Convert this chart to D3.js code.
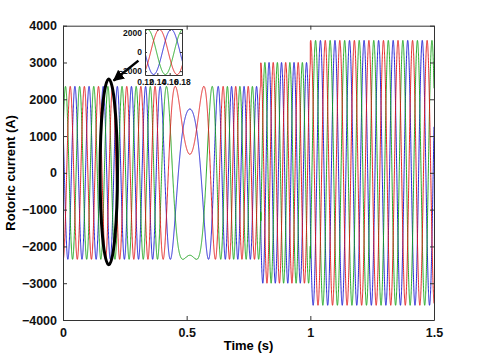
<!DOCTYPE html>
<html>
<head>
<meta charset="utf-8">
<script src="https://cdn.jsdelivr.net/npm/d3@7"></script>
<style>
  body { margin: 0; background: #fff; }
  svg text { font-family: "Liberation Sans", Arial, sans-serif; font-weight: bold; }
</style>
</head>
<body>
<div id="chart"></div>
<script>
// values
const phaseNames = ["blue", "green", "red"];
const phaseColors = ["#1010d0", "#10a010", "#e01010"];
const phaseShift = [120, 0, -120];          // degrees, relative to the green phase

// amplitude of the rotor current per time segment (A)
const segStart = [0, 0.8, 1.0];
const segAmp = [2350, 3000, 3600];

// slip frequency read at a few instants (Hz, sign = phase sequence)
const freqT = [0, 0.37, 0.513, 0.66, 1.0, 1.001, 1.5];
const freqHz = [17.5, 17.5, 0, -19.8, -19.8, -17, -17];
const turnTime = 0.513;      // frequency crosses zero here
const turnAngle = 197.6;     // green phase angle at the turn (deg)

const xTicks = [0, 0.5, 1, 1.5];
const yTicks = [-4000, -3000, -2000, -1000, 0, 1000, 2000, 3000, 4000];
const insetXTicks = [0.12, 0.14, 0.16, 0.18];
const insetYTicks = [-2000, 0, 2000];

const width = 480;
const height = 360;

const x = d3.scaleLinear().domain([0, 1.5]).range([63, 434]);
const y = d3.scaleLinear().domain([-4000, 4000]).range([320, 25.7]);

// build the three phase currents from the readings above
const dt = 0.0002;
const times = d3.range(0, 1.5 + dt / 2, dt);
const freqAt = d3.scaleLinear().domain(freqT).range(freqHz);
const angle = [];   // cycles
let acc = 0;
times.forEach((t, i) => {
  if (i > 0) acc += (freqAt(t - dt / 2)) * dt;
  angle.push(acc);
});
const turnIdx = Math.round(turnTime / dt);
const offset = turnAngle / 360 - angle[turnIdx];
function ampAt(t) {
  let a = segAmp[0];
  segStart.forEach((s, k) => { if (t >= s) a = segAmp[k]; });
  return a;
}
const series = phaseShift.map(sh => times.map((t, i) =>
  ({ t: t, v: ampAt(t) * Math.cos(2 * Math.PI * (angle[i] + offset) + sh * Math.PI / 180) })));

const svg = d3.select("#chart").append("svg")
  .attr("width", width)
  .attr("height", height);

svg.append("defs").append("clipPath").attr("id", "clip")
  .append("rect")
  .attr("x", x(0)).attr("y", y(4000))
  .attr("width", x(1.5) - x(0)).attr("height", y(-4000) - y(4000));

svg.append("defs").append("marker")
  .attr("id", "head")
  .attr("viewBox", "0 0 10 10")
  .attr("refX", 9).attr("refY", 5)
  .attr("markerWidth", 4.5).attr("markerHeight", 4.5)
  .attr("orient", "auto")
  .append("path").attr("d", "M0,0 L10,5 L0,10 z").attr("fill", "#000");

const line = d3.line().x(d => x(d.t)).y(d => y(d.v));

const plot = svg.append("g").attr("clip-path", "url(#clip)");
series.forEach((s, k) => {
  plot.append("path")
    .datum(s)
    .attr("fill", "none")
    .attr("stroke", phaseColors[k])
    .attr("stroke-width", 0.9)
    .attr("d", line);
});

// axes frame
const ax = svg.append("g");
ax.append("g")
  .attr("transform", `translate(0,${y(-4000)})`)
  .call(d3.axisBottom(x).tickValues(xTicks).tickFormat(d3.format("")).tickSizeInner(-4).tickSizeOuter(0).tickPadding(8));
ax.append("g")
  .attr("transform", `translate(0,${y(4000)})`)
  .call(d3.axisTop(x).tickValues(xTicks).tickFormat("").tickSizeInner(-4).tickSizeOuter(0));
ax.append("g")
  .attr("transform", `translate(${x(0)},0)`)
  .call(d3.axisLeft(y).tickValues(yTicks).tickFormat(d3.format("")).tickSizeInner(-4).tickSizeOuter(0).tickPadding(6));
ax.append("g")
  .attr("transform", `translate(${x(1.5)},0)`)
  .call(d3.axisRight(y).tickValues(yTicks).tickFormat("").tickSizeInner(-4).tickSizeOuter(0));
ax.selectAll(".domain").attr("stroke", "#333");
ax.selectAll(".tick line").attr("stroke", "#333");
ax.selectAll(".tick text").attr("font-size", 12.5).attr("fill", "#111");

svg.append("text")
  .attr("x", (x(0) + x(1.5)) / 2)
  .attr("y", 350)
  .attr("text-anchor", "middle")
  .attr("font-size", 13)
  .text("Time (s)");

svg.append("text")
  .attr("transform", `translate(15,${(y(4000) + y(-4000)) / 2}) rotate(-90)`)
  .attr("text-anchor", "middle")
  .attr("font-size", 13)
  .text("Rotoric current (A)");

// annotation: ellipse and arrow
svg.append("ellipse")
  .attr("cx", x(0.185)).attr("cy", y(25))
  .attr("rx", x(0.185) - x(0.15)).attr("ry", y(-2500) - y(25))
  .attr("fill", "none").attr("stroke", "#000").attr("stroke-width", 3);

svg.append("line")
  .attr("x1", x(0.305)).attr("y1", y(3050))
  .attr("x2", x(0.205)).attr("y2", y(2510))
  .attr("stroke", "#000").attr("stroke-width", 2.5)
  .attr("marker-end", "url(#head)");

// inset
const ix = d3.scaleLinear().domain([0.12, 0.18]).range([145, 182]);
const iy = d3.scaleLinear().domain([-2400, 2400]).range([75, 29]);
const inset = svg.append("g");
inset.append("rect")
  .attr("x", ix(0.12)).attr("y", iy(2400))
  .attr("width", ix(0.18) - ix(0.12)).attr("height", iy(-2400) - iy(2400))
  .attr("fill", "#fff");
svg.append("defs").append("clipPath").attr("id", "iclip")
  .append("rect")
  .attr("x", ix(0.12)).attr("y", iy(2400))
  .attr("width", ix(0.18) - ix(0.12)).attr("height", iy(-2400) - iy(2400));
const iline = d3.line().x(d => ix(d.t)).y(d => iy(d.v));
const ig = inset.append("g").attr("clip-path", "url(#iclip)");
series.forEach((s, k) => {
  ig.append("path")
    .datum(s.filter(d => d.t >= 0.118 && d.t <= 0.182))
    .attr("fill", "none")
    .attr("stroke", phaseColors[k])
    .attr("stroke-width", 0.9)
    .attr("d", iline);
});
const iax = inset.append("g");
iax.append("g")
  .attr("transform", `translate(0,${iy(-2400)})`)
  .call(d3.axisBottom(ix).tickValues(insetXTicks).tickFormat(d3.format("")).tickSizeInner(-2).tickSizeOuter(0).tickPadding(4));
iax.append("g")
  .attr("transform", `translate(0,${iy(2400)})`)
  .call(d3.axisTop(ix).tickValues(insetXTicks).tickFormat("").tickSizeInner(-2).tickSizeOuter(0));
iax.append("g")
  .attr("transform", `translate(${ix(0.12)},0)`)
  .call(d3.axisLeft(iy).tickValues(insetYTicks).tickFormat(d3.format("")).tickSizeInner(-2).tickSizeOuter(0).tickPadding(3));
iax.append("g")
  .attr("transform", `translate(${ix(0.18)},0)`)
  .call(d3.axisRight(iy).tickValues(insetYTicks).tickFormat("").tickSizeInner(-2).tickSizeOuter(0));
iax.selectAll(".domain").attr("stroke", "#333");
iax.selectAll(".tick line").attr("stroke", "#333");
iax.selectAll(".tick text").attr("font-size", 8.5).attr("fill", "#111");
</script>
</body>
</html>
